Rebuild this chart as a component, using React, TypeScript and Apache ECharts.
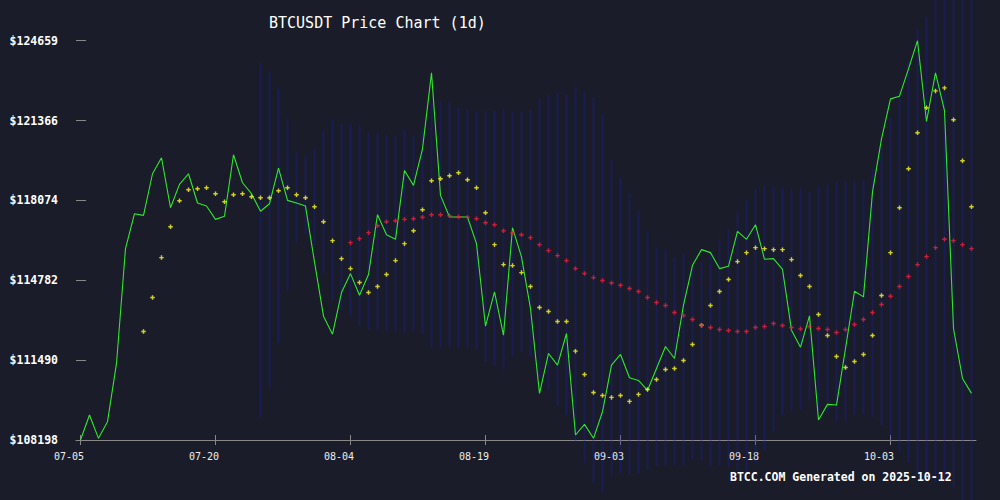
import React, { useEffect, useRef } from "react";
import * as echarts from "echarts";

const dates = [
  "07-05","07-06","07-07","07-08","07-09","07-10","07-11","07-12","07-13","07-14",
  "07-15","07-16","07-17","07-18","07-19","07-20","07-21","07-22","07-23","07-24",
  "07-25","07-26","07-27","07-28","07-29","07-30","07-31","08-01","08-02","08-03",
  "08-04","08-05","08-06","08-07","08-08","08-09","08-10","08-11","08-12","08-13",
  "08-14","08-15","08-16","08-17","08-18","08-19","08-20","08-21","08-22","08-23",
  "08-24","08-25","08-26","08-27","08-28","08-29","08-30","08-31","09-01","09-02",
  "09-03","09-04","09-05","09-06","09-07","09-08","09-09","09-10","09-11","09-12",
  "09-13","09-14","09-15","09-16","09-17","09-18","09-19","09-20","09-21","09-22",
  "09-23","09-24","09-25","09-26","09-27","09-28","09-29","09-30","10-01","10-02",
  "10-03","10-04","10-05","10-06","10-07","10-08","10-09","10-10","10-11","10-12",
];

const price = [
  108198, 109227, 108267, 108953, 111354, 116087, 117528, 117459, 119174, 119833,
  117775, 118735, 119174, 117967, 117843, 117294, 117418, 119956, 118804, 118351,
  117630, 117939, 119407, 118076, 117967, 117843, 115538, 113302, 112561, 114276,
  115058, 114166, 115017, 117486, 116663, 116471, 119311, 118694, 120203, 123331,
  118282, 117390, 117390, 117390, 116293, 112890, 114303, 112520, 116951, 115744,
  113617, 110119, 111765, 111285, 112588, 108404, 108843, 108267, 109364, 111285,
  111724, 110764, 110654, 110242, 111148, 112053, 111559, 113755, 115401, 116046,
  115922, 115264, 115360, 116800, 116471, 117075, 115648, 115675, 115236, 112726,
  112026, 113316, 109021, 109666, 109639, 111971, 114331, 114098, 118424, 120614,
  122261, 122371, 123496, 124659, 121328, 123331, 121781, 112794, 110736, 110119,
];

const ma7 = [
  null, null, null, null, null, null, null,
  112671, 114070, 115717, 116992, 118063, 118515, 118557, 118598, 118351, 118022,
  118310, 118351, 118227, 118186, 118186, 118474, 118598, 118310, 118186, 117816,
  117198, 116416, 115675, 115264, 114688, 114276, 114523, 115017, 115593, 116293,
  116828, 117692, 118886, 118968, 119092, 119215, 118927, 118598, 117569, 116252,
  115428, 115387, 115099, 114523, 113659, 113494, 113082, 113082, 111861, 110901,
  110160, 110036, 109954, 110036, 109790, 110078, 110283, 110695, 111107, 111148,
  111477, 112136, 112931, 113741, 114317, 114811, 115552, 115922, 116128, 116087,
  116046, 116046, 115634, 114976, 114523, 113370, 112506, 111642, 111189, 111436,
  111724, 112506, 114152, 115922, 117775, 119380, 120862, 121891, 122590, 122714,
  121397, 119709, 117816,
];

const ma30 = [
  null, null, null, null, null, null, null, null, null, null,
  null, null, null, null, null, null, null, null, null, null,
  null, null, null, null, null, null, null, null, null, null,
  116334, 116499, 116746, 117034, 117198, 117239, 117294, 117322, 117377, 117486,
  117486, 117445, 117404, 117377, 117322, 117157, 117075, 116828, 116732, 116663,
  116540, 116252, 116005, 115799, 115593, 115264, 115058, 114893, 114770, 114674,
  114578, 114441, 114317, 114070, 113864, 113741, 113453, 113329, 113165, 112918,
  112835, 112753, 112712, 112671, 112671, 112835, 112877, 113000, 112918, 112835,
  112780, 112877, 112794, 112753, 112630, 112753, 112959, 113165, 113453, 113782,
  114125, 114523, 114935, 115428, 115758, 116128, 116471, 116416, 116252, 116087,
];

const bbUpper = [
  null, null, null, null, null, null, null, null, null, null,
  null, null, null, null, null, null, null, null, null, null,
  123730, 123390, 122690, 121424, 120090, 119915, 120198, 120914, 121373, 121236,
  121226, 121153, 120912, 120866, 120779, 120730, 120974, 120753, 121009, 122100,
  122156, 122115, 121900, 121843, 121743, 121760, 121776, 121841, 121750, 121723,
  121789, 122253, 122424, 122469, 122430, 122764, 122543, 122332, 121604, 119727,
  118997, 118365, 117640, 116797, 116110, 116034, 115719, 115874, 115451, 115532,
  115999, 116484, 116912, 117600, 118100, 118552, 118691, 118652, 118593, 118546,
  118531, 118427, 118656, 118726, 118874, 118876, 118896, 118912, 119380, 120250,
  121450, 122580, 123830, 125130, 125660, 126470, 127030, 127020, 127090, 127190,
];

const bbLower = [
  null, null, null, null, null, null, null, null, null, null,
  null, null, null, null, null, null, null, null, null, null,
  109154, 110365, 112180, 114356, 116350, 116703, 116220, 115090, 113969, 113552,
  113290, 112905, 112732, 112730, 112700, 112665, 112610, 112705, 112590, 111996,
  112004, 111991, 112004, 111991, 111923, 111412, 111272, 111129, 111658, 111831,
  111621, 110753, 110256, 109589, 109222, 108080, 107254, 106423, 106067, 106739,
  106813, 106781, 106832, 106961, 107134, 107126, 107167, 107134, 107403, 107352,
  107115, 107144, 107076, 106940, 106828, 107244, 107787, 108568, 109213, 109406,
  109451, 109811, 109420, 109293, 108994, 108984, 109240, 109260, 109150, 108805,
  108173, 107725, 107262, 106739, 106678, 106482, 106527, 106247, 105723, 105357,
];

const yTicks = [108198, 111490, 114782, 118074, 121366, 124659];

const MONO = '"DejaVu Sans Mono", monospace';
const PLUS = "path://M1.7,0H3.3V5H1.7Z M0,1.7H5V3.3H0Z";

export default function App() {
  const ref = useRef<HTMLDivElement>(null);

  useEffect(() => {
    if (!ref.current) return;
    const chart = echarts.init(ref.current, null, { renderer: "svg" });

    const bbData = bbUpper
      .map((u, i) => (u == null || bbLower[i] == null ? null : [i, bbLower[i], u]))
      .filter((d) => d !== null);
    const ma7Data = ma7
      .map((v, i) => (v == null ? null : [i, v]))
      .filter((d) => d !== null);
    const ma30Data = ma30
      .map((v, i) => (v == null ? null : [i, v]))
      .filter((d) => d !== null);

    const gridHeight = 440 - 40.7;

    chart.setOption({
      animation: false,
      backgroundColor: "#1a1d29",
      title: [
        {
          text: "BTCUSDT Price Chart (1d)",
          left: 269,
          top: 15.3,
          padding: 0,
          textStyle: {
            color: "#ffffff",
            fontFamily: MONO,
            fontWeight: "normal",
            fontSize: 15,
            lineHeight: 15,
          },
        },
        {
          text: "BTCC.COM Generated on 2025-10-12",
          left: 730,
          top: 471.5,
          padding: 0,
          textStyle: {
            color: "#ffffff",
            fontFamily: MONO,
            fontWeight: "bold",
            fontSize: 11.5,
            lineHeight: 11.5,
          },
        },
      ],
      grid: { left: 76, right: 24, top: 40.7, bottom: 60, containLabel: false },
      xAxis: [
        {
          type: "category",
          data: dates,
          boundaryGap: true,
          position: "bottom",
          axisLine: { show: true, lineStyle: { color: "#888888", width: 1 } },
          axisTick: {
            show: true,
            alignWithLabel: true,
            interval: 14,
            length: 5,
            lineStyle: { color: "#888888" },
          },
          axisLabel: {
            interval: 14,
            color: "#eeeeee",
            fontFamily: MONO,
            fontSize: 10,
            margin: 11,
            padding: [0, 23, 0, 0],
          },
          splitLine: { show: false },
        },
        {
          type: "category",
          data: dates,
          boundaryGap: true,
          position: "top",
          offset: -gridHeight,
          axisLine: { show: false },
          axisTick: {
            show: true,
            alignWithLabel: true,
            interval: 14,
            length: 5,
            inside: false,
            lineStyle: { color: "#888888" },
          },
          axisLabel: { show: false },
          splitLine: { show: false },
        },
      ],
      yAxis: {
        type: "value",
        min: 108198,
        max: 124659,
        scale: true,
        axisLine: { show: false },
        axisTick: {
          show: true,
          inside: true,
          length: 10,
          lineStyle: { color: "#888888" },
          customValues: yTicks,
        },
        axisLabel: {
          customValues: yTicks,
          formatter: (v: number) => "$" + Math.round(v),
          color: "#ffffff",
          fontFamily: MONO,
          fontWeight: "bold",
          fontSize: 11.5,
          margin: 18,
        },
        splitLine: { show: false },
      },
      series: [
        {
          name: "Bollinger",
          type: "custom",
          xAxisIndex: 0,
          clip: false,
          z: 1,
          encode: { x: 0, y: [1, 2] },
          data: bbData,
          renderItem: (params: any, api: any) => {
            const lo = api.coord([api.value(0), api.value(1)]);
            const hi = api.coord([api.value(0), api.value(2)]);
            return {
              type: "rect",
              shape: { x: lo[0] - 1, y: hi[1], width: 2, height: lo[1] - hi[1] },
              style: { fill: "rgba(28,28,190,0.3)" },
            };
          },
        },
        {
          name: "Price",
          type: "line",
          xAxisIndex: 0,
          data: price,
          symbol: "none",
          z: 3,
          lineStyle: { color: "#2ee82e", width: 1.1 },
        },
        {
          name: "MA7",
          type: "scatter",
          xAxisIndex: 0,
          data: ma7Data,
          symbol: PLUS,
          symbolSize: 4.5,
          z: 4,
          itemStyle: { color: "#ffff22" },
        },
        {
          name: "MA30",
          type: "scatter",
          xAxisIndex: 0,
          data: ma30Data,
          symbol: PLUS,
          symbolSize: 4.5,
          z: 4,
          itemStyle: { color: "#ee2040" },
        },
      ],
    });

    return () => chart.dispose();
  }, []);

  return (
    <div
      ref={ref}
      style={{ position: "fixed", left: 0, top: 0, width: 1000, height: 500 }}
    />
  );
}
